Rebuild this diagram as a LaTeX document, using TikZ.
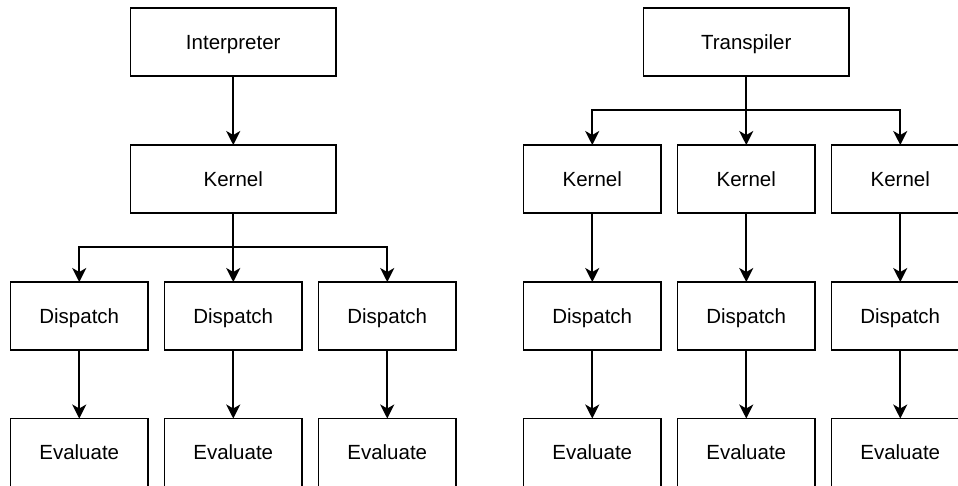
\documentclass[tikz,border=0pt]{standalone}
\usepackage{fontspec}
\setmainfont{Liberation Sans}
\usetikzlibrary{arrows.meta}
\begin{document}
\begin{tikzpicture}[x=1pt,y=-1pt,
  box/.style={draw=black, line width=1.6pt, minimum width=205.5pt, minimum height=68pt, inner sep=0pt, outer sep=0pt, text height=14.5pt, text depth=0pt, font=\fontsize{20.5}{24}\selectfont, anchor=north west},
  sbox/.style={box, minimum width=137.5pt},
  conn/.style={draw=black, line width=1.6pt, -{Stealth[length=14pt,width=14pt,inset=4pt]}}]
\useasboundingbox (0,0) rectangle (958,486);
% left tree
\node[box] (interp) at (130.5,8) {Interpreter};
\node[box] (lkern) at (130.5,145) {Kernel};
\node[sbox] (ld1) at (10.5,282) {Dispatch};
\node[sbox] (ld2) at (164.5,282) {Dispatch};
\node[sbox] (ld3) at (318.5,282) {Dispatch};
\node[sbox] (le1) at (10.5,418.5) {Evaluate};
\node[sbox] (le2) at (164.5,418.5) {Evaluate};
\node[sbox] (le3) at (318.5,418.5) {Evaluate};
\coordinate (lb) at (lkern.south |- 0,247);
\draw[conn] (interp.south) -- (lkern.north);
\draw[conn] (lkern.south) -- (lb) -| (ld1.north);
\draw[conn] (lb) -- (ld2.north);
\draw[conn] (lb) -| (ld3.north);
\draw[conn] (ld1.south) -- (le1.north);
\draw[conn] (ld2.south) -- (le2.north);
\draw[conn] (ld3.south) -- (le3.north);
% right tree
\node[box] (trans) at (643.5,8) {Transpiler};
\node[sbox] (rk1) at (523.5,145) {Kernel};
\node[sbox] (rk2) at (677.5,145) {Kernel};
\node[sbox] (rk3) at (831.5,145) {Kernel};
\node[sbox] (rd1) at (523.5,282) {Dispatch};
\node[sbox] (rd2) at (677.5,282) {Dispatch};
\node[sbox] (rd3) at (831.5,282) {Dispatch};
\node[sbox] (re1) at (523.5,418.5) {Evaluate};
\node[sbox] (re2) at (677.5,418.5) {Evaluate};
\node[sbox] (re3) at (831.5,418.5) {Evaluate};
\coordinate (rb) at (trans.south |- 0,110);
\draw[conn] (trans.south) -- (rb) -| (rk1.north);
\draw[conn] (rb) -- (rk2.north);
\draw[conn] (rb) -| (rk3.north);
\draw[conn] (rk1.south) -- (rd1.north);
\draw[conn] (rk2.south) -- (rd2.north);
\draw[conn] (rk3.south) -- (rd3.north);
\draw[conn] (rd1.south) -- (re1.north);
\draw[conn] (rd2.south) -- (re2.north);
\draw[conn] (rd3.south) -- (re3.north);
\end{tikzpicture}
\end{document}
